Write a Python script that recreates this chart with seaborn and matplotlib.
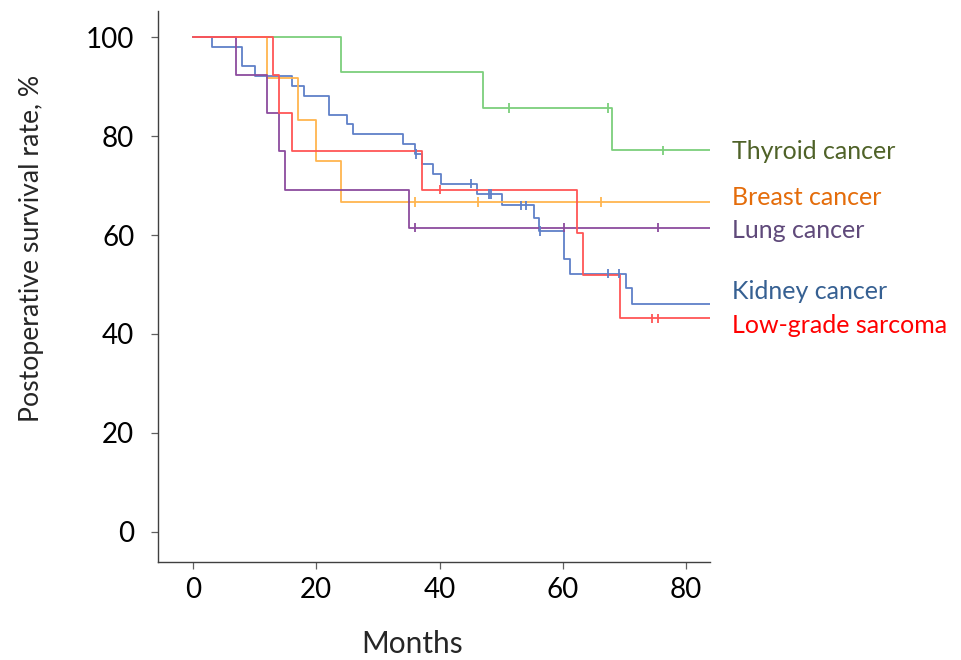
import numpy as np
import pandas as pd
import matplotlib
matplotlib.use("Agg")
import matplotlib.pyplot as plt
import seaborn as sns

# ---- data ----
groups = ["Thyroid cancer", "Kidney cancer", "Breast cancer", "Lung cancer", "Low-grade sarcoma"]

thyroid_t = [0, 24, 47, 68]
thyroid_s = [100, 92.9, 85.7, 77.1]
thyroid_c = [51.2, 67.3, 76.2]

kidney_t = [0, 3, 8, 10, 16, 18, 22, 25, 26, 34, 36.1, 37.2, 39, 40.2, 46.1, 50.1,
            55.3, 56.2, 60.2, 61.2, 70.3, 71.3]
kidney_s = [100, 98.0, 94.1, 92.2, 90.2, 88.2, 84.3, 82.4, 80.4, 78.4, 76.4, 74.4,
            72.4, 70.4, 68.3, 66.0, 63.4, 60.8, 55.2, 52.2, 49.2, 46.1]
kidney_c = [36.2, 45.1, 48.0, 48.3, 53.3, 54.1, 56.3, 67.3, 69.2]

breast_t = [0, 12, 17, 20, 24]
breast_s = [100, 91.7, 83.3, 75.0, 66.7]
breast_c = [36.0, 46.2, 66.2]

lung_t = [0, 7, 12, 14, 15, 35]
lung_s = [100, 92.3, 84.6, 76.9, 69.2, 61.5]
lung_c = [36.1, 60.2, 75.4]

sarcoma_t = [0, 13, 14, 16, 37.1, 62.3, 63.3, 69.3]
sarcoma_s = [100, 92.3, 84.6, 76.9, 69.2, 60.5, 51.9, 43.2]
sarcoma_c = [40.1, 74.5, 75.4]

x_ticks = [0, 20, 40, 60, 80]
y_ticks = [0, 20, 40, 60, 80, 100]

series = {
    "Thyroid cancer": (thyroid_t, thyroid_s, thyroid_c),
    "Kidney cancer": (kidney_t, kidney_s, kidney_c),
    "Breast cancer": (breast_t, breast_s, breast_c),
    "Lung cancer": (lung_t, lung_s, lung_c),
    "Low-grade sarcoma": (sarcoma_t, sarcoma_s, sarcoma_c),
}

line_colors = {
    "Thyroid cancer": "#7ccf7c",
    "Kidney cancer": "#5f80c8",
    "Breast cancer": "#ffb54f",
    "Lung cancer": "#8c4c9e",
    "Low-grade sarcoma": "#ff5656",
}
label_colors = {
    "Thyroid cancer": "#4f6228",
    "Kidney cancer": "#366092",
    "Breast cancer": "#e46c0a",
    "Lung cancer": "#5f497a",
    "Low-grade sarcoma": "#ff0000",
}
# label baseline heights (in % units) to the right of the plot
label_y = {
    "Thyroid cancer": 75.4,
    "Breast cancer": 66.0,
    "Lung cancer": 59.5,
    "Kidney cancer": 47.0,
    "Low-grade sarcoma": 40.1,
}

XMIN, XMAX = -5.7, 83.9
YMIN, YMAX = -6.1, 105.3

# ---- build tables ----
rows, crows = [], []
for g in groups:
    t, s, c = series[g]
    for ti, si in zip(t + [XMAX + 1], s + [s[-1]]):
        rows.append({"group": g, "month": ti, "surv": si})
    for ci in c:
        idx = np.searchsorted(t, ci, side="right") - 1
        crows.append({"group": g, "month": ci, "surv": s[idx]})
lines_df = pd.DataFrame(rows)
cens_df = pd.DataFrame(crows)

# ---- plot ----
sns.set_style("ticks")
plt.rcParams["font.family"] = ["Lato", "DejaVu Sans"]

fig = plt.figure(figsize=(9.62, 6.6), dpi=100)
ax = fig.add_axes([0.1642, 0.1485, 0.738 - 0.1642, 0.9833 - 0.1485])

sns.lineplot(data=lines_df, x="month", y="surv", hue="group", hue_order=groups,
             palette=line_colors, drawstyle="steps-post", estimator=None,
             sort=False, legend=False, linewidth=1.3, ax=ax)
sns.scatterplot(data=cens_df, x="month", y="surv", hue="group", hue_order=groups,
                palette=line_colors, marker="|", s=45, linewidth=1.3,
                legend=False, ax=ax, zorder=3)

ax.set_xlim(XMIN, XMAX)
ax.set_ylim(YMIN, YMAX)
ax.set_xticks(x_ticks)
ax.set_yticks(y_ticks)
ax.tick_params(axis="both", labelsize=20, length=5, width=0.9, color="#606060",
               labelcolor="black")
ax.tick_params(axis="y", pad=12)
ax.tick_params(axis="x", pad=6)

ax.set_xlabel("Months", fontsize=21.5)
ax.xaxis.set_label_coords(0.46, -0.165)
ax.xaxis.label.set_va("baseline")
ax.set_ylabel("Postoperative survival rate, %", fontsize=19.2)
ax.yaxis.set_label_coords(-0.23, 0.569)
ax.yaxis.label.set_va("center")
ax.yaxis.label.set_ha("center")

for sp in ["top", "right"]:
    ax.spines[sp].set_visible(False)
for sp in ["left", "bottom"]:
    ax.spines[sp].set_color("#404040")
    ax.spines[sp].set_linewidth(1.0)

for g in groups:
    ax.text(87.4, label_y[g], g, color=label_colors[g], fontsize=18,
            va="baseline", ha="left", clip_on=False)

fig.savefig("out.png", dpi=100)
